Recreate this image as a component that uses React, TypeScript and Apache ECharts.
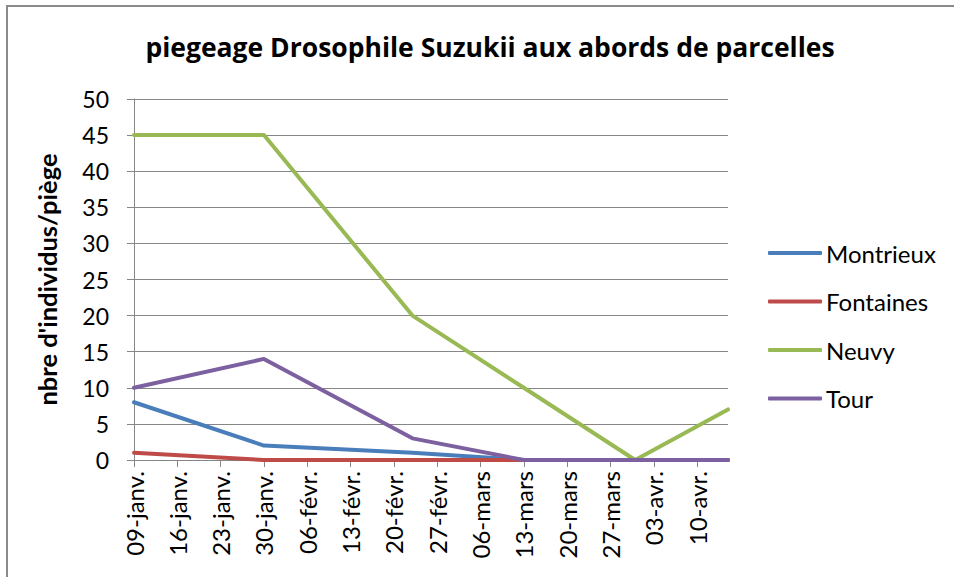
import React, { useEffect, useRef } from "react";
import * as echarts from "echarts";

const seriesNames = ["Montrieux", "Fontaines", "Neuvy", "Tour"];
const sampleDates = ["2015-01-09", "2015-01-30", "2015-02-23", "2015-03-13", "2015-03-31", "2015-04-15"];
const montrieux = [8, 2, 1, 0, 0, 0];
const fontaines = [1, 0, 0, 0, 0, 0];
const neuvy = [45, 45, 20, 10, 0, 7];
const tour = [10, 14, 3, 0, 0, 0];
const monthLabels = ["janv.", "févr.", "mars", "avr.", "mai", "juin", "juil.", "août", "sept.", "oct.", "nov.", "déc."];
const colors = ["#4a7ebb", "#be4b48", "#98b954", "#7d60a0"];
const yTicks = [0, 5, 10, 15, 20, 25, 30, 35, 40, 45, 50];

const DAY = 86400000;
const startMs = Date.parse(sampleDates[0] + "T00:00:00Z");
const endMs = Date.parse(sampleDates[sampleDates.length - 1] + "T00:00:00Z");
const dayOf = (d: string) => Math.round((Date.parse(d + "T00:00:00Z") - startMs) / DAY);
const totalDays = Math.round((endMs - startMs) / DAY);
const weekTicks: number[] = [];
for (let d = 0; d <= totalDays - 1; d += 7) weekTicks.push(d);

const fmt = (v: number) => {
  const dt = new Date(startMs + v * DAY);
  const dd = String(dt.getUTCDate()).padStart(2, "0");
  return dd + "-" + monthLabels[dt.getUTCMonth()];
};

const FONT = "Lato, 'Open Sans', sans-serif";
const TITLE_FONT = "'Open Sans', Lato, sans-serif";

export default function App() {
  const ref = useRef<HTMLDivElement>(null);
  useEffect(() => {
    if (!ref.current) return;
    const chart = echarts.init(ref.current, undefined, { renderer: "svg" });
    const all = [montrieux, fontaines, neuvy, tour];
    chart.setOption({
      animation: false,
      backgroundColor: "#ffffff",
      textStyle: { fontFamily: FONT },
      title: {
        text: "piegeage Drosophile Suzukii aux abords de parcelles",
        left: 485,
        top: 28,
        textAlign: "center",
        textStyle: { fontFamily: TITLE_FONT, fontSize: 26.5, fontWeight: "bold", color: "#000" },
      },
      graphic: [
        {
          type: "rect",
          shape: { x: 7, y: 6, width: 1000, height: 1000 },
          style: { fill: "none", stroke: "#8a8a8a", lineWidth: 2 },
          silent: true,
        },
      ],
      legend: {
        orient: "vertical",
        left: 763,
        top: 236,
        itemWidth: 54,
        itemHeight: 4,
        itemGap: 24.5,
        icon: "roundRect",
        data: seriesNames,
        textStyle: { fontFamily: FONT, fontSize: 24, color: "#000", lineHeight: 24, padding: [0, 0, 0, -1] },
      },
      grid: { left: 134, right: 226, top: 99, bottom: 117, containLabel: false },
      xAxis: {
        type: "value",
        min: 0,
        max: totalDays,
        interval: 7,
        splitLine: { show: false },
        axisLine: { show: true, lineStyle: { color: "#868686", width: 1 } },
        axisTick: { show: true, length: 7, customValues: weekTicks, lineStyle: { color: "#868686" } },
        axisLabel: {
          rotate: 90,
          margin: 11,
          customValues: weekTicks,
          formatter: (v: number) => fmt(v),
          fontFamily: FONT,
          fontSize: 24,
          color: "#000",
        },
      },
      yAxis: {
        type: "value",
        min: 0,
        max: 50,
        interval: 5,
        name: "nbre d'individus/piège",
        nameLocation: "middle",
        nameRotate: 90,
        nameGap: 74,
        nameTextStyle: { fontFamily: FONT, fontSize: 25.5, fontWeight: "bold", color: "#000" },
        axisLine: { show: true, lineStyle: { color: "#868686", width: 1 } },
        axisTick: { show: true, length: 7, lineStyle: { color: "#868686" } },
        splitLine: { show: true, lineStyle: { color: "#868686", width: 1 } },
        axisLabel: {
          margin: 25,
          fontFamily: FONT,
          fontSize: 23,
          color: "#000",
          customValues: yTicks,
        },
      },
      series: seriesNames.map((name, i) => ({
        name,
        type: "line",
        data: sampleDates.map((d, j) => [dayOf(d), all[i][j]]),
        showSymbol: false,
        symbol: "none",
        lineStyle: { color: colors[i], width: 4, cap: "round", join: "round" },
        itemStyle: { color: colors[i] },
        z: 2 + i,
      })),
    });
    return () => chart.dispose();
  }, []);
  return <div ref={ref} style={{ position: "fixed", left: 0, top: 0, width: 954, height: 577 }} />;
}
